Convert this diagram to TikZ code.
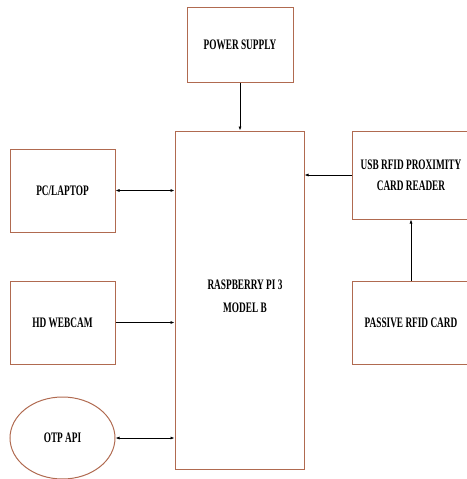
\documentclass[tikz,border=0pt]{standalone}
\usepackage{fontspec}
\setmainfont{Liberation Serif}[FakeStretch=0.64]
\usetikzlibrary{shapes.geometric,arrows.meta}
\definecolor{boxc}{HTML}{B06A50}
\begin{document}
\begin{tikzpicture}[x=1pt,y=-1pt,
  blk/.style={draw=boxc,line width=1pt,rectangle,inner sep=0pt,font=\bfseries\fontsize{14.5}{17}\selectfont,align=center},
  conn/.style={draw=black,line width=0.7pt,-{Latex[length=4pt,width=3pt]}},
  bconn/.style={draw=black,line width=0.7pt,{Latex[length=4pt,width=3pt]}-{Latex[length=4pt,width=3pt]}}]
\useasboundingbox (0,0) rectangle (466,479);
\node[blk,minimum width=106pt,minimum height=75pt] (ps) at (240,44.5) {POWER SUPPLY};
\node[blk,minimum width=129pt,minimum height=338pt] (rpi) at (239.5,300) {};
\node[font=\bfseries\fontsize{14.5}{23}\selectfont,align=center] (rpitext) at (245,296) {RASPBERRY PI 3\\MODEL B};
\node[blk,minimum width=105pt,minimum height=83pt] (pc) at (62.5,190.5) {PC/LAPTOP};
\node[blk,minimum width=105pt,minimum height=83pt] (cam) at (62.5,322.5) {HD WEBCAM};
\node[blk,ellipse,minimum width=105pt,minimum height=82pt] (otp) at (62.5,438) {OTP API};
\node[blk,minimum width=118pt,minimum height=88pt] (usb) at (411,175) {USB RFID PROXIMITY\\[4pt]CARD READER};
\node[blk,minimum width=118pt,minimum height=83pt] (card) at (411,322.5) {PASSIVE RFID CARD};
\draw[conn] (ps.south) -- (ps.south |- rpi.north);
\draw[bconn] (pc.east) -- (pc.east -| rpi.west);
\draw[conn] (usb.west) -- (usb.west -| rpi.east);
\draw[conn] (cam.east) -- (cam.east -| rpi.west);
\draw[bconn] (otp.east) -- (otp.east -| rpi.west);
\draw[conn] (card.north) -- (card.north |- usb.south);
\end{tikzpicture}
\end{document}
